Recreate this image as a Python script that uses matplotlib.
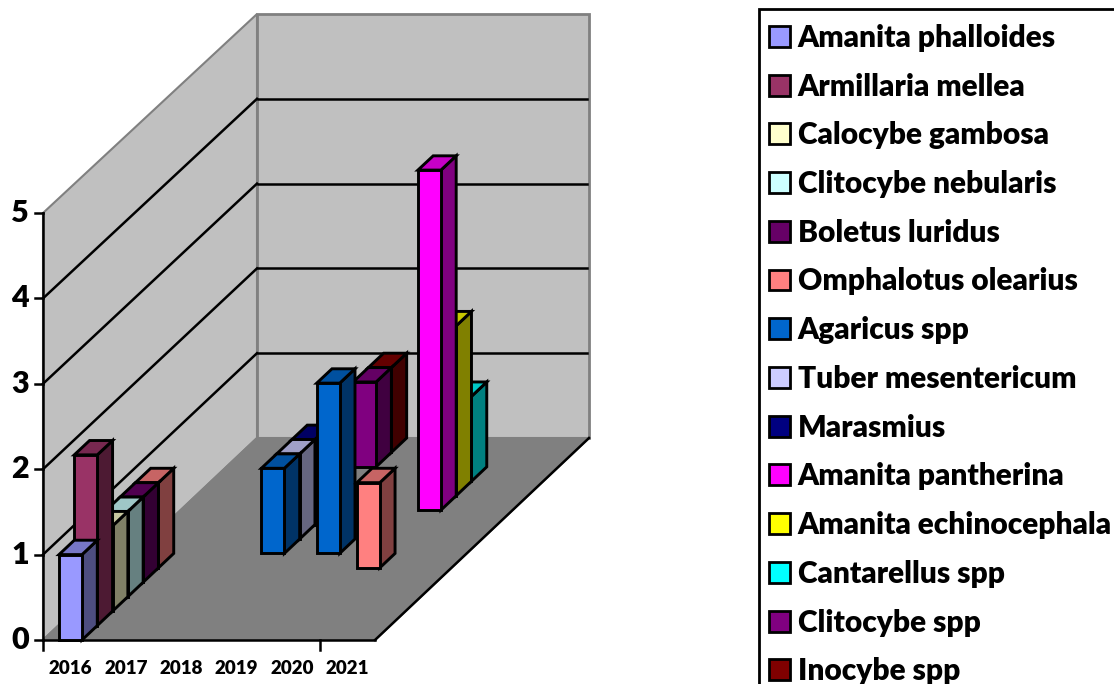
import matplotlib
matplotlib.use("Agg")
import matplotlib.pyplot as plt
from matplotlib.patches import Patch, Polygon, Rectangle
from matplotlib.colors import to_rgb

plt.rcParams['font.family'] = ['Lato', 'DejaVu Sans']
plt.rcParams['font.weight'] = 'heavy'

years = ['2016', '2017', '2018', '2019', '2020', '2021']
especies = ['Amanita phalloides', 'Armillaria mellea', 'Calocybe gambosa', 'Clitocybe nebularis',
            'Boletus luridus', 'Omphalotus olearius', 'Agaricus spp', 'Tuber mesentericum',
            'Marasmius', 'Amanita pantherina', 'Amanita echinocephala', 'Cantarellus spp',
            'Clitocybe spp', 'Inocybe spp']
cores = ['#9999FF', '#993366', '#FFFFCC', '#CCFFFF', '#660066', '#FF8080', '#0066CC',
         '#CCCCFF', '#000080', '#FF00FF', '#FFFF00', '#00FFFF', '#800080', '#800000']

# uma lista por espécie, um valor por ano
amanita_phalloides = [1, 0, 0, 0, 0, 0]
armillaria_mellea = [2, 0, 0, 0, 0, 0]
calocybe_gambosa = [1, 0, 0, 0, 0, 0]
clitocybe_nebularis = [1, 0, 0, 0, 0, 0]
boletus_luridus = [1, 0, 0, 0, 0, 0]
omphalotus_olearius = [1, 0, 0, 0, 1, 0]
agaricus_spp = [0, 0, 1, 2, 0, 0]
tuber_mesentericum = [0, 0, 1, 0, 0, 0]
marasmius = [0, 0, 1, 0, 0, 0]
amanita_pantherina = [0, 0, 0, 0, 4, 0]
amanita_echinocephala = [0, 0, 0, 0, 2, 0]
cantarellus_spp = [0, 0, 0, 0, 1, 0]
clitocybe_spp = [0, 0, 1, 0, 0, 0]
inocybe_spp = [0, 0, 1, 0, 0, 0]
valores = [amanita_phalloides, armillaria_mellea, calocybe_gambosa, clitocybe_nebularis,
           boletus_luridus, omphalotus_olearius, agaricus_spp, tuber_mesentericum, marasmius,
           amanita_pantherina, amanita_echinocephala, cantarellus_spp, clitocybe_spp, inocybe_spp]

# projeção oblíqua em pixels
X0, Y0 = 43, 640
LARG_ANO = 332 / 6
ALT_FRENTE = 85.4
ALT_FUNDO = 84.8
PROF_X = 214 / 14
PROF_Y = 202 / 14
ymax = 5
n = len(especies)
m = len(years)


def proj(x, prof, v):
    # x em anos, prof em séries, v em unidades do eixo
    alt = ALT_FRENTE + (ALT_FUNDO - ALT_FRENTE) * prof / n
    return (X0 + x * LARG_ANO + prof * PROF_X, Y0 - prof * PROF_Y - v * alt)


def escurece(cor, f):
    return tuple(c * f for c in to_rgb(cor))


fig = plt.figure(figsize=(11.14, 6.84), dpi=100)
ax = fig.add_axes([0, 0, 1, 1])
ax.set_xlim(0, 1114)
ax.set_ylim(684, 0)
ax.axis('off')

cinza = '#808080'

# paredes e chão
ax.add_patch(Polygon([proj(0, 0, 0), proj(0, n, 0), proj(0, n, ymax), proj(0, 0, ymax)],
                     fc='#C0C0C0', ec=cinza, lw=1.5, zorder=1))
ax.add_patch(Polygon([proj(0, n, 0), proj(m, n, 0), proj(m, n, ymax), proj(0, n, ymax)],
                     fc='#C0C0C0', ec=cinza, lw=2, zorder=1))
ax.add_patch(Polygon([proj(0, 0, 0), proj(m, 0, 0), proj(m, n, 0), proj(0, n, 0)],
                     fc=cinza, ec=cinza, lw=1.5, zorder=2))

# linhas de grade
for v in range(1, ymax):
    a, b, c = proj(0, 0, v), proj(0, n, v), proj(m, n, v)
    ax.plot([a[0], b[0]], [a[1], b[1]], color='black', lw=1.8, zorder=3)
    ax.plot([b[0] + 1, c[0] - 2], [b[1], c[1]], color='black', lw=1.8, zorder=3)

# barras, de trás para a frente
margem = 16 / LARG_ANO
larg = 23 / LARG_ANO
z = 5
for s in range(n - 1, -1, -1):
    for k in range(m - 1, -1, -1):
        v = valores[s][k]
        if v == 0:
            continue
        x1, x2 = k + margem, k + margem + larg
        frente = [proj(x1, s, 0), proj(x2, s, 0), proj(x2, s, v), proj(x1, s, v)]
        lado = [proj(x2, s, 0), proj(x2, s + 1, 0), proj(x2, s + 1, v), proj(x2, s, v)]
        topo = [proj(x1, s, v), proj(x2, s, v), proj(x2, s + 1, v), proj(x1, s + 1, v)]
        ax.add_patch(Polygon(lado, fc=escurece(cores[s], 0.5), ec='black', lw=2.1, joinstyle='miter', zorder=z))
        ax.add_patch(Polygon(topo, fc=escurece(cores[s], 0.78), ec='black', lw=2.1, joinstyle='miter', zorder=z))
        ax.add_patch(Polygon(frente, fc=cores[s], ec='black', lw=2.1, joinstyle='miter', zorder=z))
        z += 1

# eixos
fim = proj(m, 0, 0)
dir_fundo = proj(m, n, 0)
ax.plot([X0, X0], [Y0, proj(0, 0, ymax)[1]], color='black', lw=1.8, zorder=4)
ax.plot([X0, fim[0]], [Y0, Y0], color='black', lw=1.8, zorder=4)
ax.plot([fim[0], dir_fundo[0]], [fim[1], dir_fundo[1]], color='black', lw=1.8, zorder=3)
for v in range(ymax + 1):
    yy = proj(0, 0, v)[1]
    ax.plot([X0 - 8, X0], [yy, yy], color='black', lw=1.8, zorder=4)
    ax.text(29, yy, str(v), ha='right', va='center', fontsize=22, color='black')
for x_t in [0, 5]:
    xx = proj(x_t, 0, 0)[0]
    ax.plot([xx, xx], [Y0, Y0 + 10], color='black', lw=1.8, zorder=4)
for k, ano in enumerate(years):
    ax.text(proj(k + 0.5, 0, 0)[0], 669, ano, ha='center', va='center', fontsize=13.5, color='black')

# legenda: a moldura passa das bordas da figura
ax.add_patch(Rectangle((759, 9), 400, 720, fc='white', ec='black', lw=2, zorder=19))
alcas = [Patch(fc=c, ec='black', lw=2) for c in cores]
leg = ax.legend(alcas, especies, loc='upper left', bbox_to_anchor=(759, 14),
                bbox_transform=ax.transData, fontsize=21.5, frameon=False,
                labelspacing=0.694, handlelength=0.7, handleheight=0.7,
                handletextpad=0.27, borderpad=0.33, borderaxespad=0, labelcolor='black')
leg.set_zorder(20)

fig.savefig('out.png', dpi=100)
